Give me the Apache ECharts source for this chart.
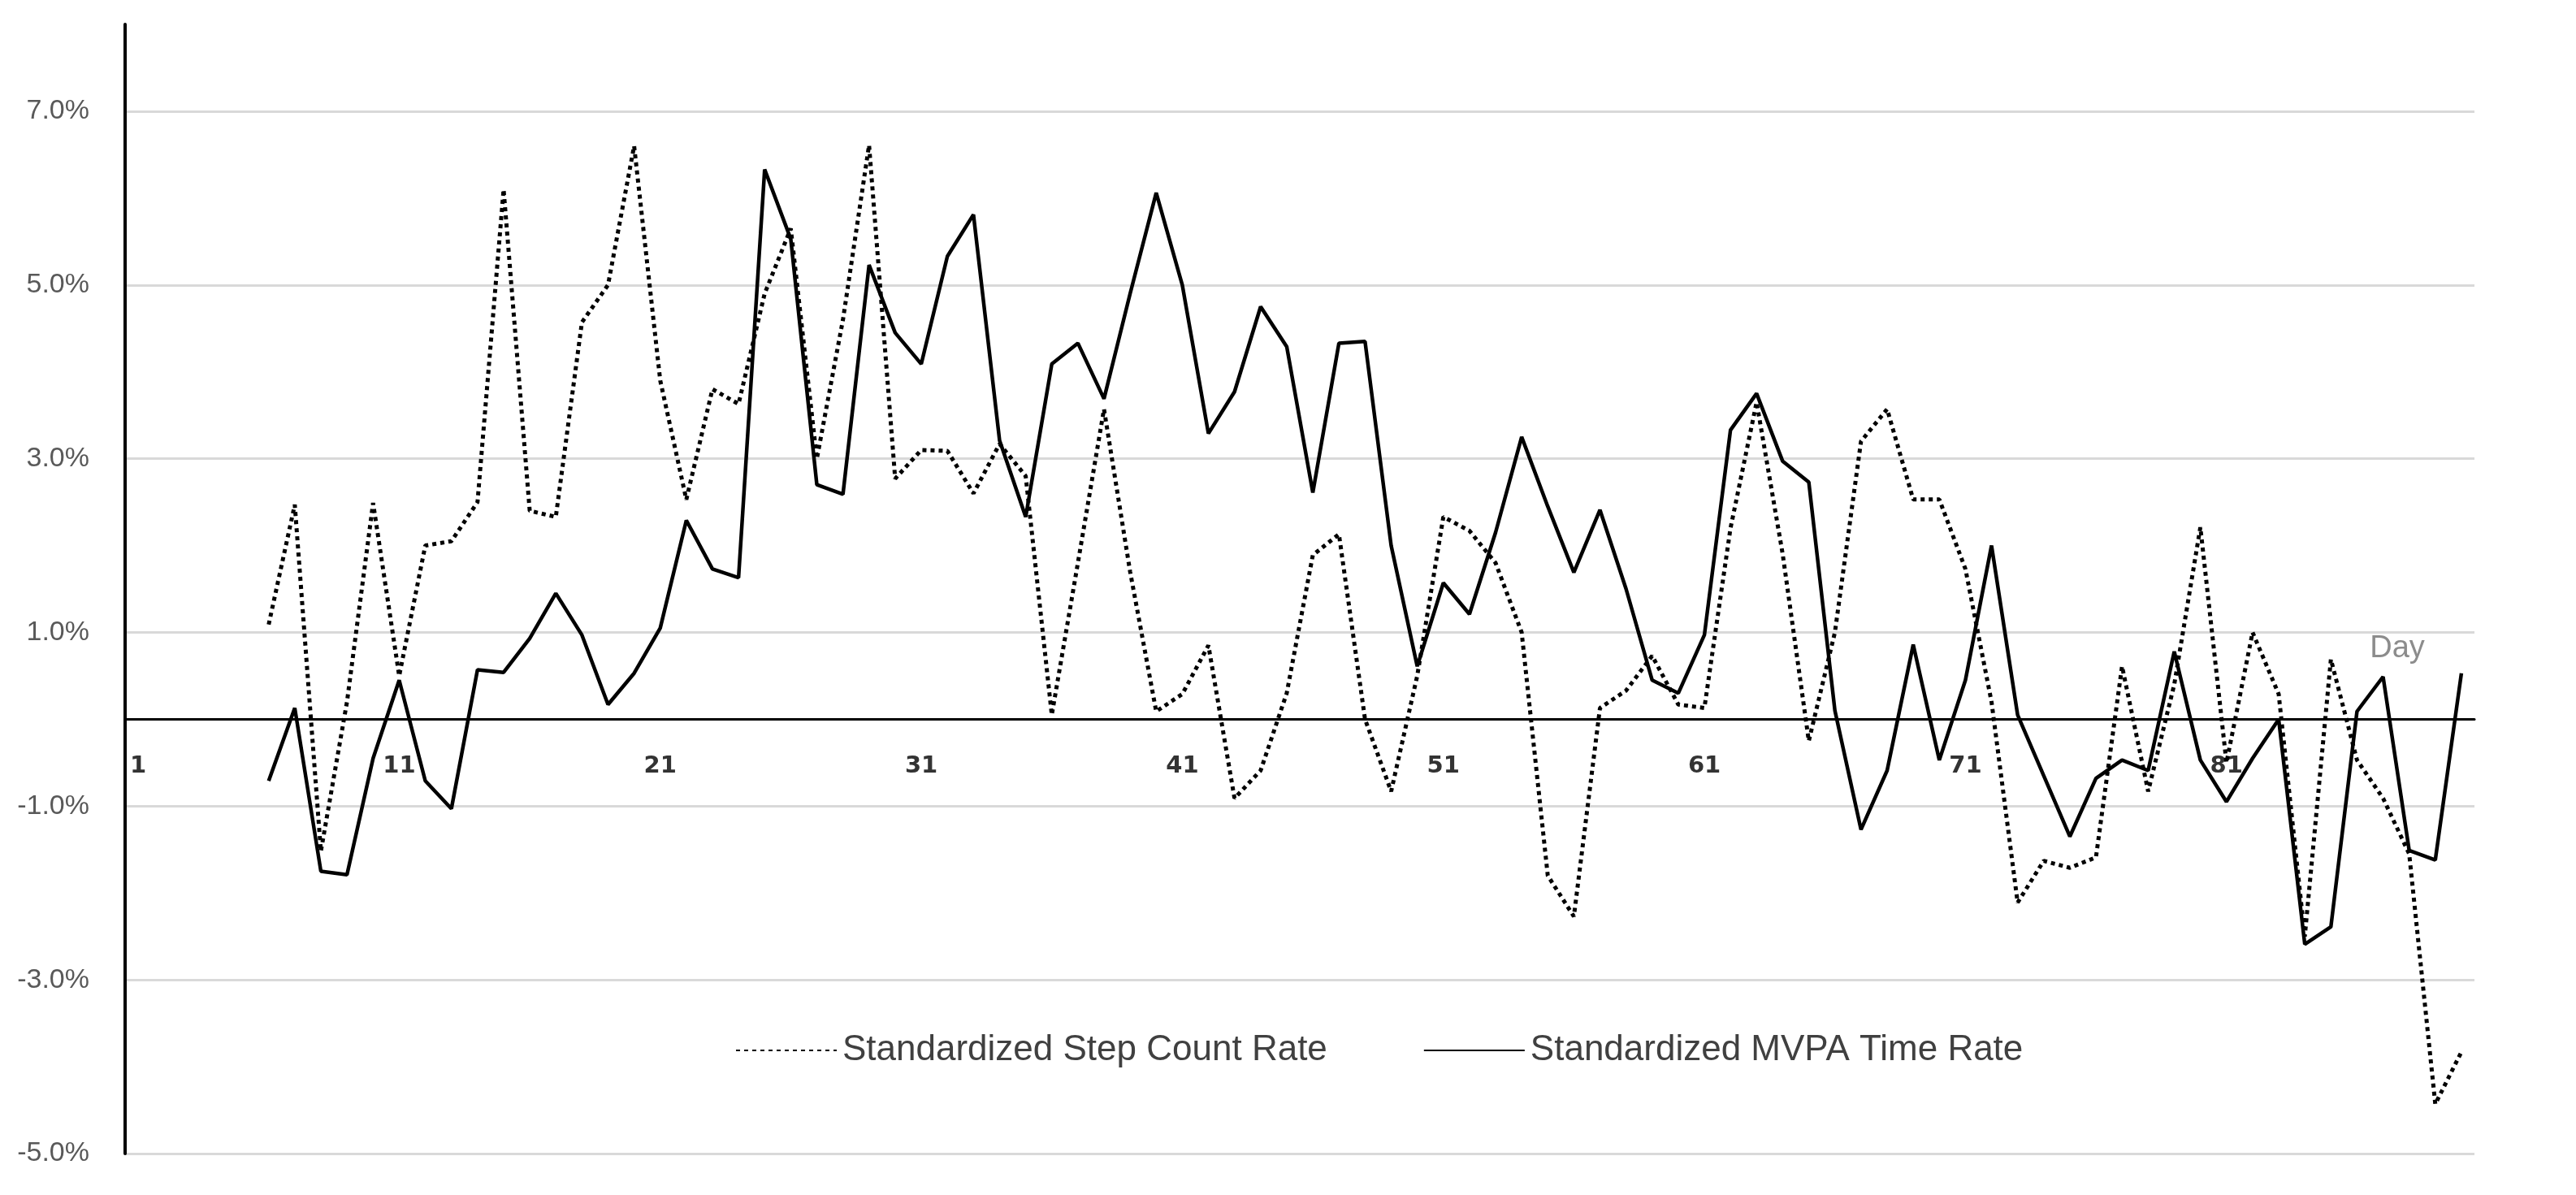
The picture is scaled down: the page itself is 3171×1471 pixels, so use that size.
<!DOCTYPE html>
<html>
<head>
<meta charset="utf-8">
<script src="https://cdn.jsdelivr.net/npm/echarts@6/dist/echarts.min.js"></script>
<style>
  html, body { margin: 0; padding: 0; background: #ffffff; }
  #chart { width: 3171px; height: 1471px; }
</style>
</head>
<body>
<div id="chart"></div>
<script>
// Days 1..90 (category axis)
const days = [];
for (let d = 1; d <= 90; d++) days.push(String(d));

// Values in percent; days 1-5 have no data
const stepCountRate = [
  null, null, null, null, null,
  1.09, 2.47, -1.52, 0.2, 2.49, 0.5, 2.0, 2.05, 2.5, 6.1,
  2.4, 2.33, 4.57, 5.0, 6.6, 3.9, 2.53, 3.8, 3.63, 4.9,
  5.65, 3.0, 4.6, 6.61, 2.77, 3.1, 3.09, 2.6, 3.17, 2.8,
  0.05, 1.8, 3.57, 1.7, 0.09, 0.29, 0.85, -0.91, -0.59, 0.3,
  1.89, 2.13, 0.0, -0.83, 0.5, 2.33, 2.17, 1.8, 1.0, -1.8,
  -2.27, 0.13, 0.33, 0.73, 0.17, 0.13, 2.2, 3.65, 1.9, -0.25,
  1.0, 3.2, 3.57, 2.53, 2.53, 1.73, 0.2, -2.11, -1.63, -1.71,
  -1.59, 0.61, -0.83, 0.4, 2.21, -0.5, 1.0, 0.29, -2.5, 0.69,
  -0.47, -0.91, -1.55, -4.43, -3.83
];

const mvpaTimeRate = [
  null, null, null, null, null,
  -0.71, 0.13, -1.75, -1.79, -0.45, 0.45, -0.71, -1.03, 0.57, 0.54,
  0.93, 1.45, 0.97, 0.17, 0.53, 1.05, 2.29, 1.73, 1.63, 6.33,
  5.53, 2.7, 2.59, 5.23, 4.45, 4.09, 5.33, 5.81, 3.21, 2.33,
  4.09, 4.33, 3.69, 4.9, 6.06, 5.0, 3.29, 3.77, 4.75, 4.29,
  2.61, 4.33, 4.35, 2.0, 0.61, 1.57, 1.21, 2.15, 3.25, 2.45,
  1.69, 2.41, 1.5, 0.45, 0.3, 0.97, 3.33, 3.75, 2.97, 2.73,
  0.1, -1.27, -0.59, 0.86, -0.47, 0.45, 2.0, 0.05, -0.65, -1.35,
  -0.68, -0.47, -0.59, 0.78, -0.47, -0.95, -0.45, 0.0, -2.59, -2.39,
  0.09, 0.49, -1.51, -1.62, 0.53
];

const seriesNames = ['Standardized Step Count Rate', 'Standardized MVPA Time Rate'];
const yMin = -5, yMax = 8, yInterval = 2;

const gridTop = 30, gridBottom = 51, chartHeight = 1471;
const plotHeight = chartHeight - gridTop - gridBottom;
// lift the category axis (line + labels) to the 0% level
const zeroOffset = -plotHeight * (0 - yMin) / (yMax - yMin);

const chart = echarts.init(document.getElementById('chart'), null, { renderer: 'canvas' });

chart.setOption({
  backgroundColor: '#ffffff',
  animation: false,
  grid: { left: 154, right: 125, top: gridTop, bottom: gridBottom, containLabel: false },
  legend: {
    data: seriesNames,
    left: 900,
    top: 1266,
    itemWidth: 124,
    itemHeight: 20,
    itemGap: 118,
    itemStyle: { opacity: 0 },
    textStyle: { fontFamily: 'Liberation Sans', fontSize: 44, color: '#404040', padding: [0, 0, 0, 2] }
  },
  xAxis: {
    type: 'category',
    data: days,
    boundaryGap: true,
    position: 'bottom',
    offset: zeroOffset,
    name: 'Day',
    nameLocation: 'end',
    nameGap: -95,
    nameTextStyle: {
      fontFamily: 'Liberation Sans', fontSize: 38, color: '#8c8c8c',
      align: 'center', verticalAlign: 'bottom', padding: [0, 0, 68, 0]
    },
    axisLine: { show: true, onZero: false, lineStyle: { color: '#000000', width: 3 } },
    axisTick: { show: false },
    axisLabel: {
      interval: 9,
      margin: 44,
      fontFamily: 'DejaVu Sans',
      fontWeight: 'bold',
      fontSize: 29,
      color: '#333333'
    },
    splitLine: { show: false }
  },
  yAxis: {
    type: 'value',
    min: yMin,
    max: yMax,
    interval: yInterval,
    axisLine: { show: true, lineStyle: { color: '#000000', width: 4 } },
    axisTick: { show: false },
    axisLabel: {
      margin: 44,
      fontFamily: 'Liberation Sans',
      fontSize: 34,
      color: '#595959',
      showMaxLabel: false,
      formatter: function (v) { return v.toFixed(1) + '%'; }
    },
    splitLine: { show: true, showMaxLine: false, showMinLine: true, lineStyle: { color: '#d9d9d9', width: 3 } }
  },
  series: [
    {
      name: seriesNames[0],
      type: 'line',
      data: stepCountRate,
      symbol: 'none',
      connectNulls: false,
      lineStyle: { color: '#000000', width: 5, type: [5, 5] },
      itemStyle: { color: '#000000' },
      z: 3
    },
    {
      name: seriesNames[1],
      type: 'line',
      data: mvpaTimeRate,
      symbol: 'none',
      connectNulls: false,
      lineStyle: { color: '#000000', width: 4.5, type: 'solid' },
      itemStyle: { color: '#000000' },
      z: 4
    }
  ]
});
</script>
</body>
</html>
